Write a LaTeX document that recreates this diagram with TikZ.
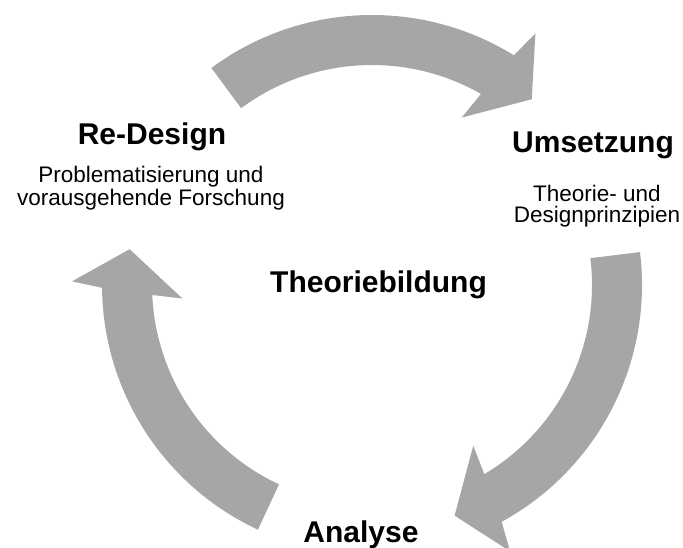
\documentclass[tikz,border=0pt]{standalone}
\usepackage{fontspec}
\setmainfont{Liberation Sans}
\definecolor{cyclegray}{HTML}{A6A6A6}

\begin{document}
\begin{tikzpicture}[x=1bp, y=1bp,
  cyclearrow/.style={fill=cyclegray, draw=none},
  phase/.style={font=\fontsize{30bp}{36bp}\selectfont\bfseries, anchor=base, inner sep=0pt},
  note/.style={font=\fontsize{22.5bp}{23bp}\selectfont, align=center, anchor=base, inner sep=0pt}]
\useasboundingbox (0,0) rectangle (683,548);

% Cycle arrows around the centre
\begin{scope}[shift={(372,263)}]
% Re-Design -> Umsetzung
\fill[cyclearrow] (126.5:270) arc[start angle=126.5, end angle=58.3, radius=270] -- (57:300) -- (49.3:245) -- (61.8:190) -- (60.3:220) arc[start angle=60.3, end angle=126.5, radius=220] -- cycle;
% Umsetzung -> Analyse
\fill[cyclearrow] (7:270) arc[start angle=7, end angle=-61.3, radius=270] -- (-62.6:300) -- (-70.3:245) -- (-57.8:190) -- (-59.3:220) arc[start angle=-59.3, end angle=7, radius=220] -- cycle;
% Analyse -> Re-Design
\fill[cyclearrow] (245:270) arc[start angle=245, end angle=180.6, radius=270] -- (179.3:300) -- (171.6:245) -- (184.1:190) -- (182.6:220) arc[start angle=182.6, end angle=245, radius=220] -- cycle;
\end{scope}

% Phase labels
\node[phase] (redesign) at (152,403) {Re-Design};
\node[note] (redesigntext) at (151,342) {Problematisierung und\\vorausgehende Forschung};
\node[phase] (umsetzung) at (593,395) {Umsetzung};
\node[note, font=\fontsize{22.5bp}{21bp}\selectfont] (umsetzungtext) at (597,325) {Theorie- und\\Designprinzipien};
\node[phase] (theorie) at (378.5,255) {Theoriebildung};
\node[phase] (analyse) at (361,5) {Analyse};
\end{tikzpicture}
\end{document}
